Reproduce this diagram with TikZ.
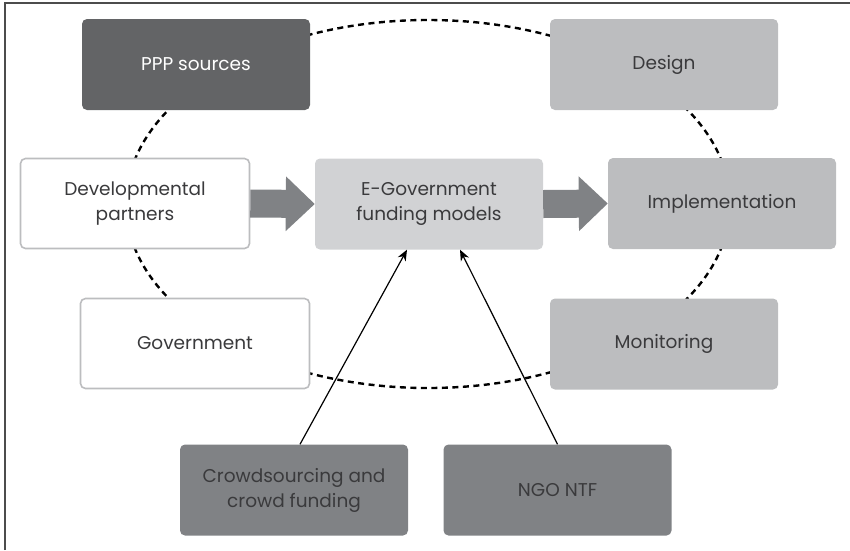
\documentclass[tikz,border=0pt]{standalone}
\usepackage{fontspec}
\setmainfont{Poppins}
\usepackage{tikz}
\usetikzlibrary{arrows.meta}
\usetikzlibrary{positioning}
\definecolor{mdark}{HTML}{636466}
\definecolor{mmid}{HTML}{808285}
\definecolor{mlight}{HTML}{BCBDBF}
\definecolor{mpale}{HTML}{D1D2D4}
\definecolor{mtext}{HTML}{3A3A3C}
\tikzset{box/.style = {rounded corners=5pt, minimum width=228pt, minimum height=91pt,
                       align=center, font=\fontsize{18.5}{25}\selectfont, text=mtext},
         openbox/.style = {box, draw=mlight, line width=1.6pt, fill=white,
                           minimum width=229pt, minimum height=90pt},
         fatarrow/.style = {mmid, line width=28pt,
                            -{Triangle[length=29pt, width=53pt]}},
         feed/.style = {black, line width=1.2pt, -{Stealth[length=11pt, width=9pt]}}}

\begin{document}
\begin{tikzpicture}[x=1pt, y=-1pt]
    \useasboundingbox (0, 0) rectangle (850, 550);
    \draw [black!70, line width=1.2pt] (5, 550) -- (5, 3) -- (850, 3);

    % dashed cycle behind the boxes
    \coordinate (hub) at (428, 204);
    \draw [black, line width=2.4pt, dash pattern=on 6pt off 4.5pt] (hub) ellipse [x radius=302, y radius=184];

    \node [box, fill=mdark, text=white] (ppp) at (196, 64.5) {PPP sources};
    \node [box, fill=mlight] (design) at (664, 64.5) {Design};
    \node [openbox] (partners) at (135, 203.5) {Developmental\\partners};
    \node [box, fill=mpale] (egov) at (429, 204) {E-Government\\funding models};
    \node [box, fill=mlight] (impl) at (722, 203.5) {Implementation};
    \node [openbox] (gov) at (195, 343.5) {Government};
    \node [box, fill=mlight] (monitor) at (664, 344) {Monitoring};
    \node [box, fill=mmid] (crowd) at (294, 490) {Crowdsourcing and\\crowd funding};
    \node [box, fill=mmid] (ngo) at (557.5, 490) {NGO NTF};

    \draw [fatarrow] (partners.east) -- (egov.west);
    \draw [fatarrow] (egov.east) -- (impl.west);

    \draw [feed] ([xshift=6pt]crowd.north) -- ([xshift=-22pt]egov.south);
    \draw [feed] (ngo.north) -- ([xshift=31pt]egov.south);
\end{tikzpicture}
\end{document}
